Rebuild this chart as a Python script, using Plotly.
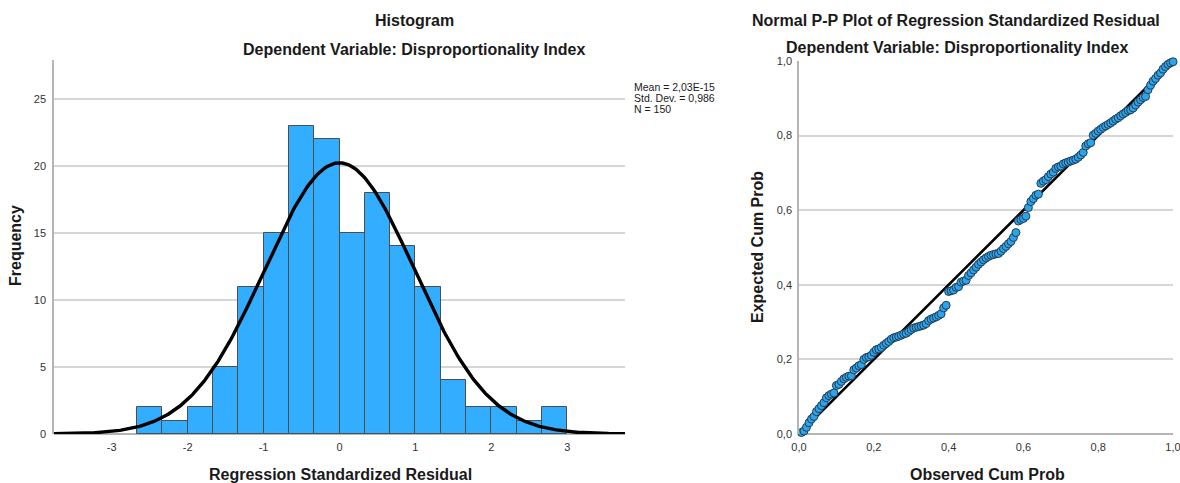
import math
import plotly.graph_objects as go

# ---- Histogram of standardized residuals ----
bin_edges = [-8/3, -7/3, -2.0, -5/3, -4/3, -1.0, -2/3, -1/3, 0.0,
             1/3, 2/3, 1.0, 4/3, 5/3, 2.0, 7/3, 8/3, 3.0]
counts = [2, 1, 2, 5, 11, 15, 23, 22, 15, 18, 14, 11, 4, 2, 2, 1, 2]
hist_xticks = [-3, -2, -1, 0, 1, 2, 3]
hist_xticktext = ["-3", "-2", "-1", "0", "1", "2", "3"]
hist_yticks = [0, 5, 10, 15, 20, 25]

resid_mean = 2.03e-15
resid_sd = 0.986
n_cases = 150

# ---- Normal P-P plot: expected cumulative probability per sorted case ----
expected_cum = [
    0.004, 0.008, 0.018, 0.030, 0.040, 0.047, 0.060, 0.068, 0.076, 0.084,
    0.097, 0.103, 0.107, 0.110, 0.130, 0.133, 0.141, 0.148, 0.152, 0.155,
    0.156, 0.172, 0.177, 0.183, 0.186, 0.200, 0.205, 0.207, 0.211, 0.219,
    0.226, 0.228, 0.232, 0.238, 0.243, 0.248, 0.254, 0.258, 0.260, 0.262,
    0.265, 0.268, 0.270, 0.275, 0.280, 0.284, 0.286, 0.288, 0.290, 0.292,
    0.296, 0.304, 0.308, 0.311, 0.314, 0.318, 0.322, 0.338, 0.345, 0.382,
    0.384, 0.386, 0.393, 0.395, 0.407, 0.410, 0.412, 0.425, 0.432, 0.440,
    0.447, 0.455, 0.461, 0.467, 0.472, 0.476, 0.479, 0.481, 0.483, 0.484,
    0.490, 0.497, 0.503, 0.510, 0.516, 0.527, 0.540, 0.571, 0.575, 0.578,
    0.584, 0.607, 0.623, 0.631, 0.640, 0.643, 0.672, 0.678, 0.682, 0.690,
    0.697, 0.702, 0.712, 0.716, 0.718, 0.724, 0.727, 0.729, 0.732, 0.734,
    0.737, 0.742, 0.748, 0.755, 0.772, 0.778, 0.781, 0.801, 0.806, 0.812,
    0.817, 0.822, 0.826, 0.830, 0.834, 0.839, 0.844, 0.848, 0.853, 0.858,
    0.862, 0.867, 0.869, 0.874, 0.882, 0.890, 0.896, 0.902, 0.905, 0.923,
    0.935, 0.946, 0.953, 0.962, 0.968, 0.978, 0.985, 0.991, 0.995, 0.998,
]
pp_ticks = [0.0, 0.2, 0.4, 0.6, 0.8, 1.0]
pp_ticktext = ["0,0", "0,2", "0,4", "0,6", "0,8", "1,0"]

# observed cumulative probability = rank / N
observed_cum = [(i + 1) / len(expected_cum) for i in range(len(expected_cum))]

FONT = "Arial, Liberation Sans, sans-serif"
BAR = "#33adff"
GRID = "#d6d6d6"
AXIS = "#b5b5b5"
W, H = 1180, 483


def px(x):
    return x / W


def py(y):
    return 1 - y / H


centers = [(a + b) / 2 for a, b in zip(bin_edges[:-1], bin_edges[1:])]
widths = [b - a for a, b in zip(bin_edges[:-1], bin_edges[1:])]
bw = widths[0]

x_lo, x_hi = -3.76, 3.76
curve_x = [x_lo + (x_hi - x_lo) * k / 400 for k in range(401)]
curve_y = [n_cases * bw / (resid_sd * math.sqrt(2 * math.pi))
           * math.exp(-0.5 * ((v - resid_mean) / resid_sd) ** 2) for v in curve_x]

fig = go.Figure()

fig.add_trace(go.Bar(
    x=centers, y=counts, width=widths,
    marker=dict(color=BAR, line=dict(color="#4d4d4d", width=1)),
    xaxis="x", yaxis="y", showlegend=False, hoverinfo="x+y",
))
fig.add_trace(go.Scatter(
    x=curve_x, y=curve_y, mode="lines",
    line=dict(color="black", width=3.4),
    xaxis="x", yaxis="y", showlegend=False, hoverinfo="skip",
))

fig.add_trace(go.Scatter(
    x=[0, 1], y=[0, 1], mode="lines",
    line=dict(color="black", width=2.6),
    xaxis="x2", yaxis="y2", showlegend=False, hoverinfo="skip",
))
fig.add_trace(go.Scatter(
    x=observed_cum, y=expected_cum, mode="markers",
    marker=dict(color="#2fa3e8", size=8, line=dict(color="#1f3d57", width=1)),
    xaxis="x2", yaxis="y2", showlegend=False, cliponaxis=False,
))

tick_font = dict(family=FONT, size=11, color="#333333")

fig.update_layout(
    width=W, height=H,
    margin=dict(l=0, r=0, t=0, b=0, autoexpand=False),
    paper_bgcolor="white", plot_bgcolor="white",
    bargap=0,
    xaxis=dict(
        domain=[px(54), px(625)], range=[x_lo, x_hi], automargin=False,
        tickvals=hist_xticks, ticktext=hist_xticktext, ticks="",
        showgrid=False, zeroline=False, showline=False, tickfont=tick_font,
        ticklabelstandoff=5, fixedrange=True,
    ),
    yaxis=dict(
        domain=[py(434), py(60)], range=[0, 27.9], automargin=False,
        tickvals=hist_yticks, ticks="", showgrid=True, gridcolor=GRID,
        gridwidth=1.5, zeroline=True, zerolinecolor=AXIS, zerolinewidth=1.5,
        showline=True, linecolor=AXIS, linewidth=1.5,
        tickfont=tick_font, ticklabelstandoff=4, fixedrange=True,
    ),
    xaxis2=dict(
        domain=[px(799), px(1173)], range=[0, 1], anchor="y2", automargin=False,
        tickvals=pp_ticks, ticktext=pp_ticktext, ticks="", showgrid=False,
        zeroline=False, showline=False, tickfont=tick_font,
        ticklabelstandoff=5, ticklabeloverflow="allow", fixedrange=True,
    ),
    yaxis2=dict(
        domain=[py(434), py(61)], range=[0, 1], anchor="x2", automargin=False,
        tickvals=pp_ticks, ticktext=pp_ticktext, ticks="", showgrid=True,
        gridcolor=GRID, gridwidth=1.5, zeroline=True, zerolinecolor=AXIS,
        zerolinewidth=1.5, showline=True, linecolor=AXIS, linewidth=1.5,
        tickfont=tick_font, ticklabelstandoff=3, ticklabeloverflow="allow",
        fixedrange=True,
    ),
)

title_font = dict(family=FONT, size=16, color="#1a1a1a")
label_font = dict(family=FONT, size=16, color="#1a1a1a")


def note(text, x, y, font, **kw):
    fig.add_annotation(text=text, x=px(x), y=py(y), xref="paper", yref="paper",
                       xanchor="center", yanchor="middle",
                       showarrow=False, font=font, **kw)


note("<b>Histogram</b>", 414, 20, title_font)
note("<b>Dependent Variable: Disproportionality Index</b>", 414, 49, title_font)
note("<b>Normal P-P Plot of Regression Standardized Residual</b>", 956, 20, title_font)
note("<b>Dependent Variable: Disproportionality Index</b>", 957, 48, title_font)

note("<b>Regression Standardized Residual</b>", 340, 474, label_font)
note("<b>Frequency</b>", 16, 246, label_font, textangle=-90)
note("<b>Observed Cum Prob</b>", 987, 474, label_font)
note("<b>Expected Cum Prob</b>", 757, 247, label_font, textangle=-90)

# fit statistics box, one line per statistic
sd_text = f"{resid_sd:.3f}".replace(".", ",")
stats_lines = ["Mean = 2,03E-15", f"Std. Dev. = {sd_text}", f"N = {n_cases}"]
for k, line in enumerate(stats_lines):
    fig.add_annotation(
        text=line, x=px(632), y=py(87 + 11 * k), xref="paper", yref="paper",
        xanchor="left", yanchor="middle", align="left", showarrow=False,
        font=dict(family=FONT, size=10.5, color="#1a1a1a"),
    )

fig.write_html("out.html",
               post_script="document.body.style.margin='0';")
